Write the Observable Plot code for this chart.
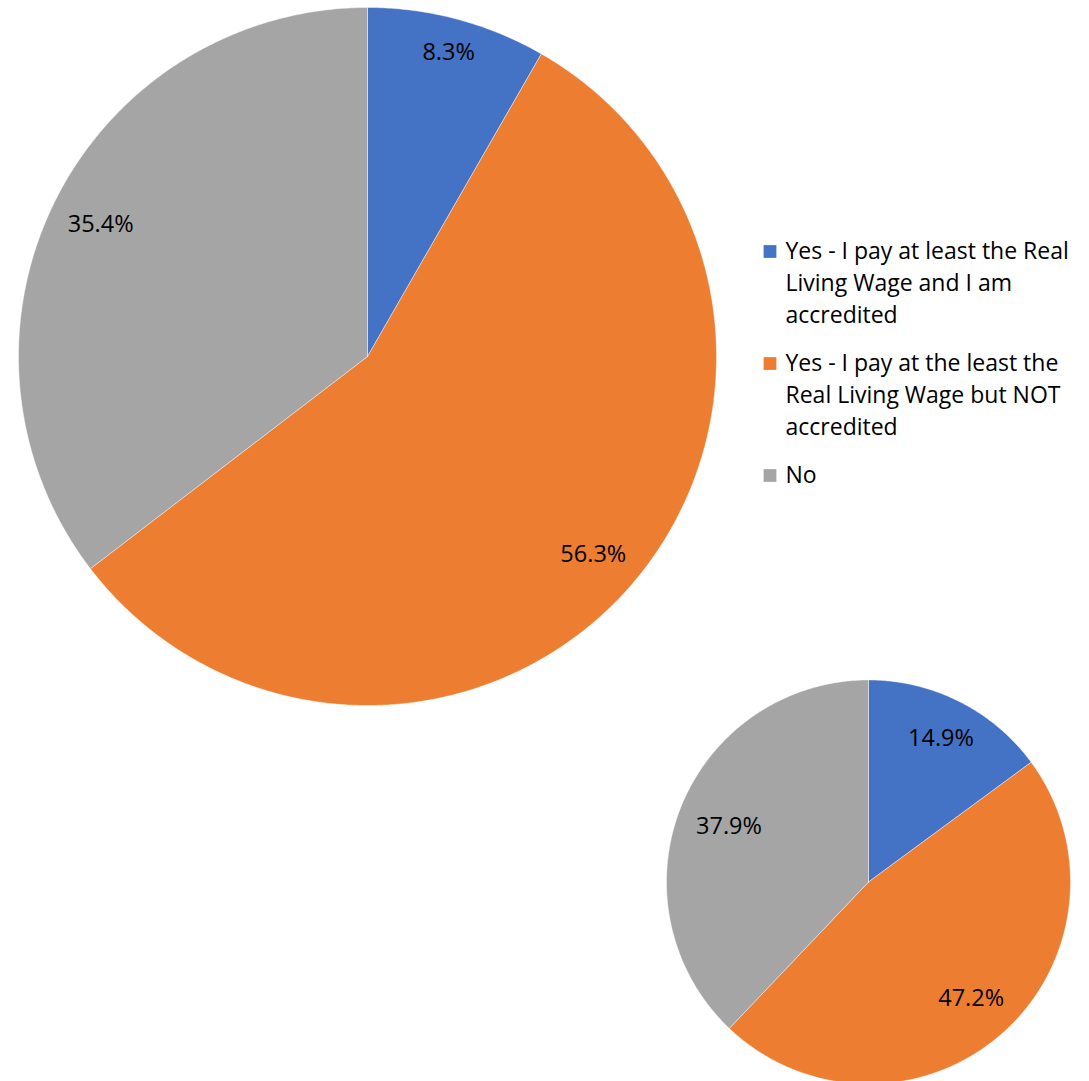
<!DOCTYPE html>
<html>
<head>
<meta charset="utf-8">
<script src="https://cdn.jsdelivr.net/npm/d3@7"></script>
<script src="https://cdn.jsdelivr.net/npm/@observablehq/plot@0.6"></script>
<style>
  html, body { margin: 0; padding: 0; background: #fff; }
  #chart svg { display: block; }
</style>
</head>
<body>
<div id="chart"></div>
<script>
// ---- data ----
const categories = [
  "Yes - I pay at least the Real Living Wage and I am accredited",
  "Yes - I pay at the least the Real Living Wage but NOT accredited",
  "No"
];
const legendLabels = [
  "Yes - I pay at least the Real\nLiving Wage and I am\naccredited",
  "Yes - I pay at the least the\nReal Living Wage but NOT\naccredited",
  "No"
];
const colors = ["#4472C4", "#ED7D31", "#A5A5A5"];
const pieLargeValues = [8.3, 56.3, 35.4];
const pieSmallValues = [14.9, 47.2, 37.9];

// ---- layout ----
const W = 1089, H = 1081;
const pies = [
  {name: "large", values: pieLargeValues, cx: 367, cy: 356, r: 349},
  {name: "small", values: pieSmallValues, cx: 868, cy: 881.5, r: 202}
];
const FONT = "'Open Sans', Lato, sans-serif";
const FS_LABEL = 23.5;
const FS_LEGEND = 23;

// Build slice polygons + labels (inside-end placement)
const slicePoints = [];
const labels = [];
for (const p of pies) {
  const arcs = d3.pie().sort(null).value(d => d)(p.values);
  arcs.forEach((a, i) => {
    const key = p.name + "-" + i;
    slicePoints.push({key, cat: categories[i], x: p.cx, y: p.cy});
    const n = Math.max(8, Math.ceil((a.endAngle - a.startAngle) / (Math.PI / 360)));
    for (let k = 0; k <= n; k++) {
      const t = a.startAngle + (a.endAngle - a.startAngle) * k / n;
      slicePoints.push({key, cat: categories[i], x: p.cx + p.r * Math.sin(t), y: p.cy - p.r * Math.cos(t)});
    }
    slicePoints.push({key, cat: categories[i], x: p.cx, y: p.cy});
    const mid = (a.startAngle + a.endAngle) / 2;
    const text = d3.format(".1f")(a.data) + "%";
    const hw = text.length * 0.27 * FS_LABEL, hh = 9;
    const extent = Math.abs(Math.sin(mid)) * hw + Math.abs(Math.cos(mid)) * hh;
    const lr = p.r - extent - 19;
    labels.push({text, x: p.cx + lr * Math.sin(mid), y: p.cy - lr * Math.cos(mid)});
  });
}

// Legend rows
const legendX = 769.5, legendTextX = 785, legendY0 = 251, lineStep = 32, itemGap = 16;
const legendSwatches = [];
const legendLines = [];
let yy = legendY0;
legendLabels.forEach((lab, i) => {
  legendSwatches.push({cat: categories[i], x: legendX, y: yy});
  lab.split("\n").forEach((line, j) => {
    legendLines.push({text: line, x: legendTextX, y: yy + j * lineStep});
  });
  yy += lab.split("\n").length * lineStep + itemGap;
});

const chart = Plot.plot({
  width: W,
  height: H,
  margin: 0,
  x: {domain: [0, W], range: [0, W], axis: null},
  y: {domain: [0, H], range: [0, H], axis: null},
  color: {domain: categories, range: colors},
  style: {fontFamily: FONT, background: "#fff"},
  marks: [
    Plot.line(slicePoints, {x: "x", y: "y", z: "key", fill: "cat", stroke: "#ffffff", strokeWidth: 0.6, strokeOpacity: 0.7, curve: "linear-closed"}),
    Plot.text(labels, {x: "x", y: "y", text: "text", fontSize: FS_LABEL, fill: "#000", fontFamily: FONT}),
    Plot.dot(legendSwatches, {x: "x", y: "y", symbol: "square", r: 7.2, fill: "cat", stroke: null}),
    Plot.text(legendLines, {x: "x", y: "y", text: "text", textAnchor: "start", fontSize: FS_LEGEND, fill: "#000", fontFamily: FONT})
  ]
});
document.getElementById("chart").appendChild(chart);
</script>
</body>
</html>
